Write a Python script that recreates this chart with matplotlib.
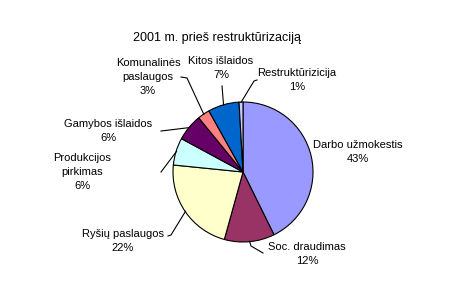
import numpy as np
import matplotlib
matplotlib.use("Agg")
import matplotlib.pyplot as plt

plt.rcParams["font.family"] = ["Liberation Sans", "DejaVu Sans"]

title = "2001 m. prieš restruktūrizaciją"
labels = ["Darbo užmokestis", "Soc. draudimas", "Ryšių paslaugos", "Produkcijos\npirkimas",
          "Gamybos išlaidos", "Komunalinės\npaslaugos", "Kitos išlaidos", "Restruktūrizicija"]
values = [42.7, 11.6, 22.3, 6.3, 6.2, 2.8, 7.2, 0.9]
pct_text = ["43%", "12%", "22%", "6%", "6%", "3%", "7%", "1%"]
colors = ["#9999FF", "#993366", "#FFFFCC", "#CCFFFF", "#660066", "#FF8080", "#0066CC", "#CCCCFF"]

# pixel layout: pie centre (243,172), radius 70px
CX, CY, R = 243, 172, 70
W, H = 477, 282


def px(x, y):
    return (x - CX) / R, (CY - y) / R


# label centre (px) and leader path (px) for each slice
label_pos = [(358, 152), (307, 254), (123, 241), (82, 172), (108, 131), (148, 77), (221, 68), (297, 80)]
leader_from = [None, (263, 253), (168, 236), (161, 172), (161, 131), (181, 77), (222, 86), (257, 80)]
leader_knee = [None, (251, 246), (171, 235), None, None, (187, 78), None, (254, 81)]

fig = plt.figure(figsize=(W / 100, H / 100), dpi=100)
ax = fig.add_axes([0, 0, 1, 1])
wedges, _ = ax.pie(values, colors=colors, startangle=90, counterclock=False,
                   wedgeprops=dict(edgecolor="black", linewidth=0.8))
ax.set_xlim(px(0, 0)[0], px(W, 0)[0])
ax.set_ylim(px(0, H)[1], px(0, 0)[1])
ax.axis("off")

ax.text(*px(217, 38), title, ha="center", va="center", fontsize=9)

for i, w in enumerate(wedges):
    tx, ty = px(*label_pos[i])
    ax.text(tx, ty, labels[i] + "\n" + pct_text[i], ha="center", va="center",
            fontsize=8, linespacing=1.45)
    if leader_from[i] is None:
        continue
    mid = np.deg2rad((w.theta1 + w.theta2) / 2)
    ex, ey = 0.995 * np.cos(mid), 0.995 * np.sin(mid)
    pts = [px(*leader_from[i])]
    if leader_knee[i] is not None:
        pts.append(px(*leader_knee[i]))
    pts.append((ex, ey))
    xs, ys = zip(*pts)
    ax.plot(xs, ys, color="black", linewidth=0.8)

fig.savefig("out.png", dpi=100)
